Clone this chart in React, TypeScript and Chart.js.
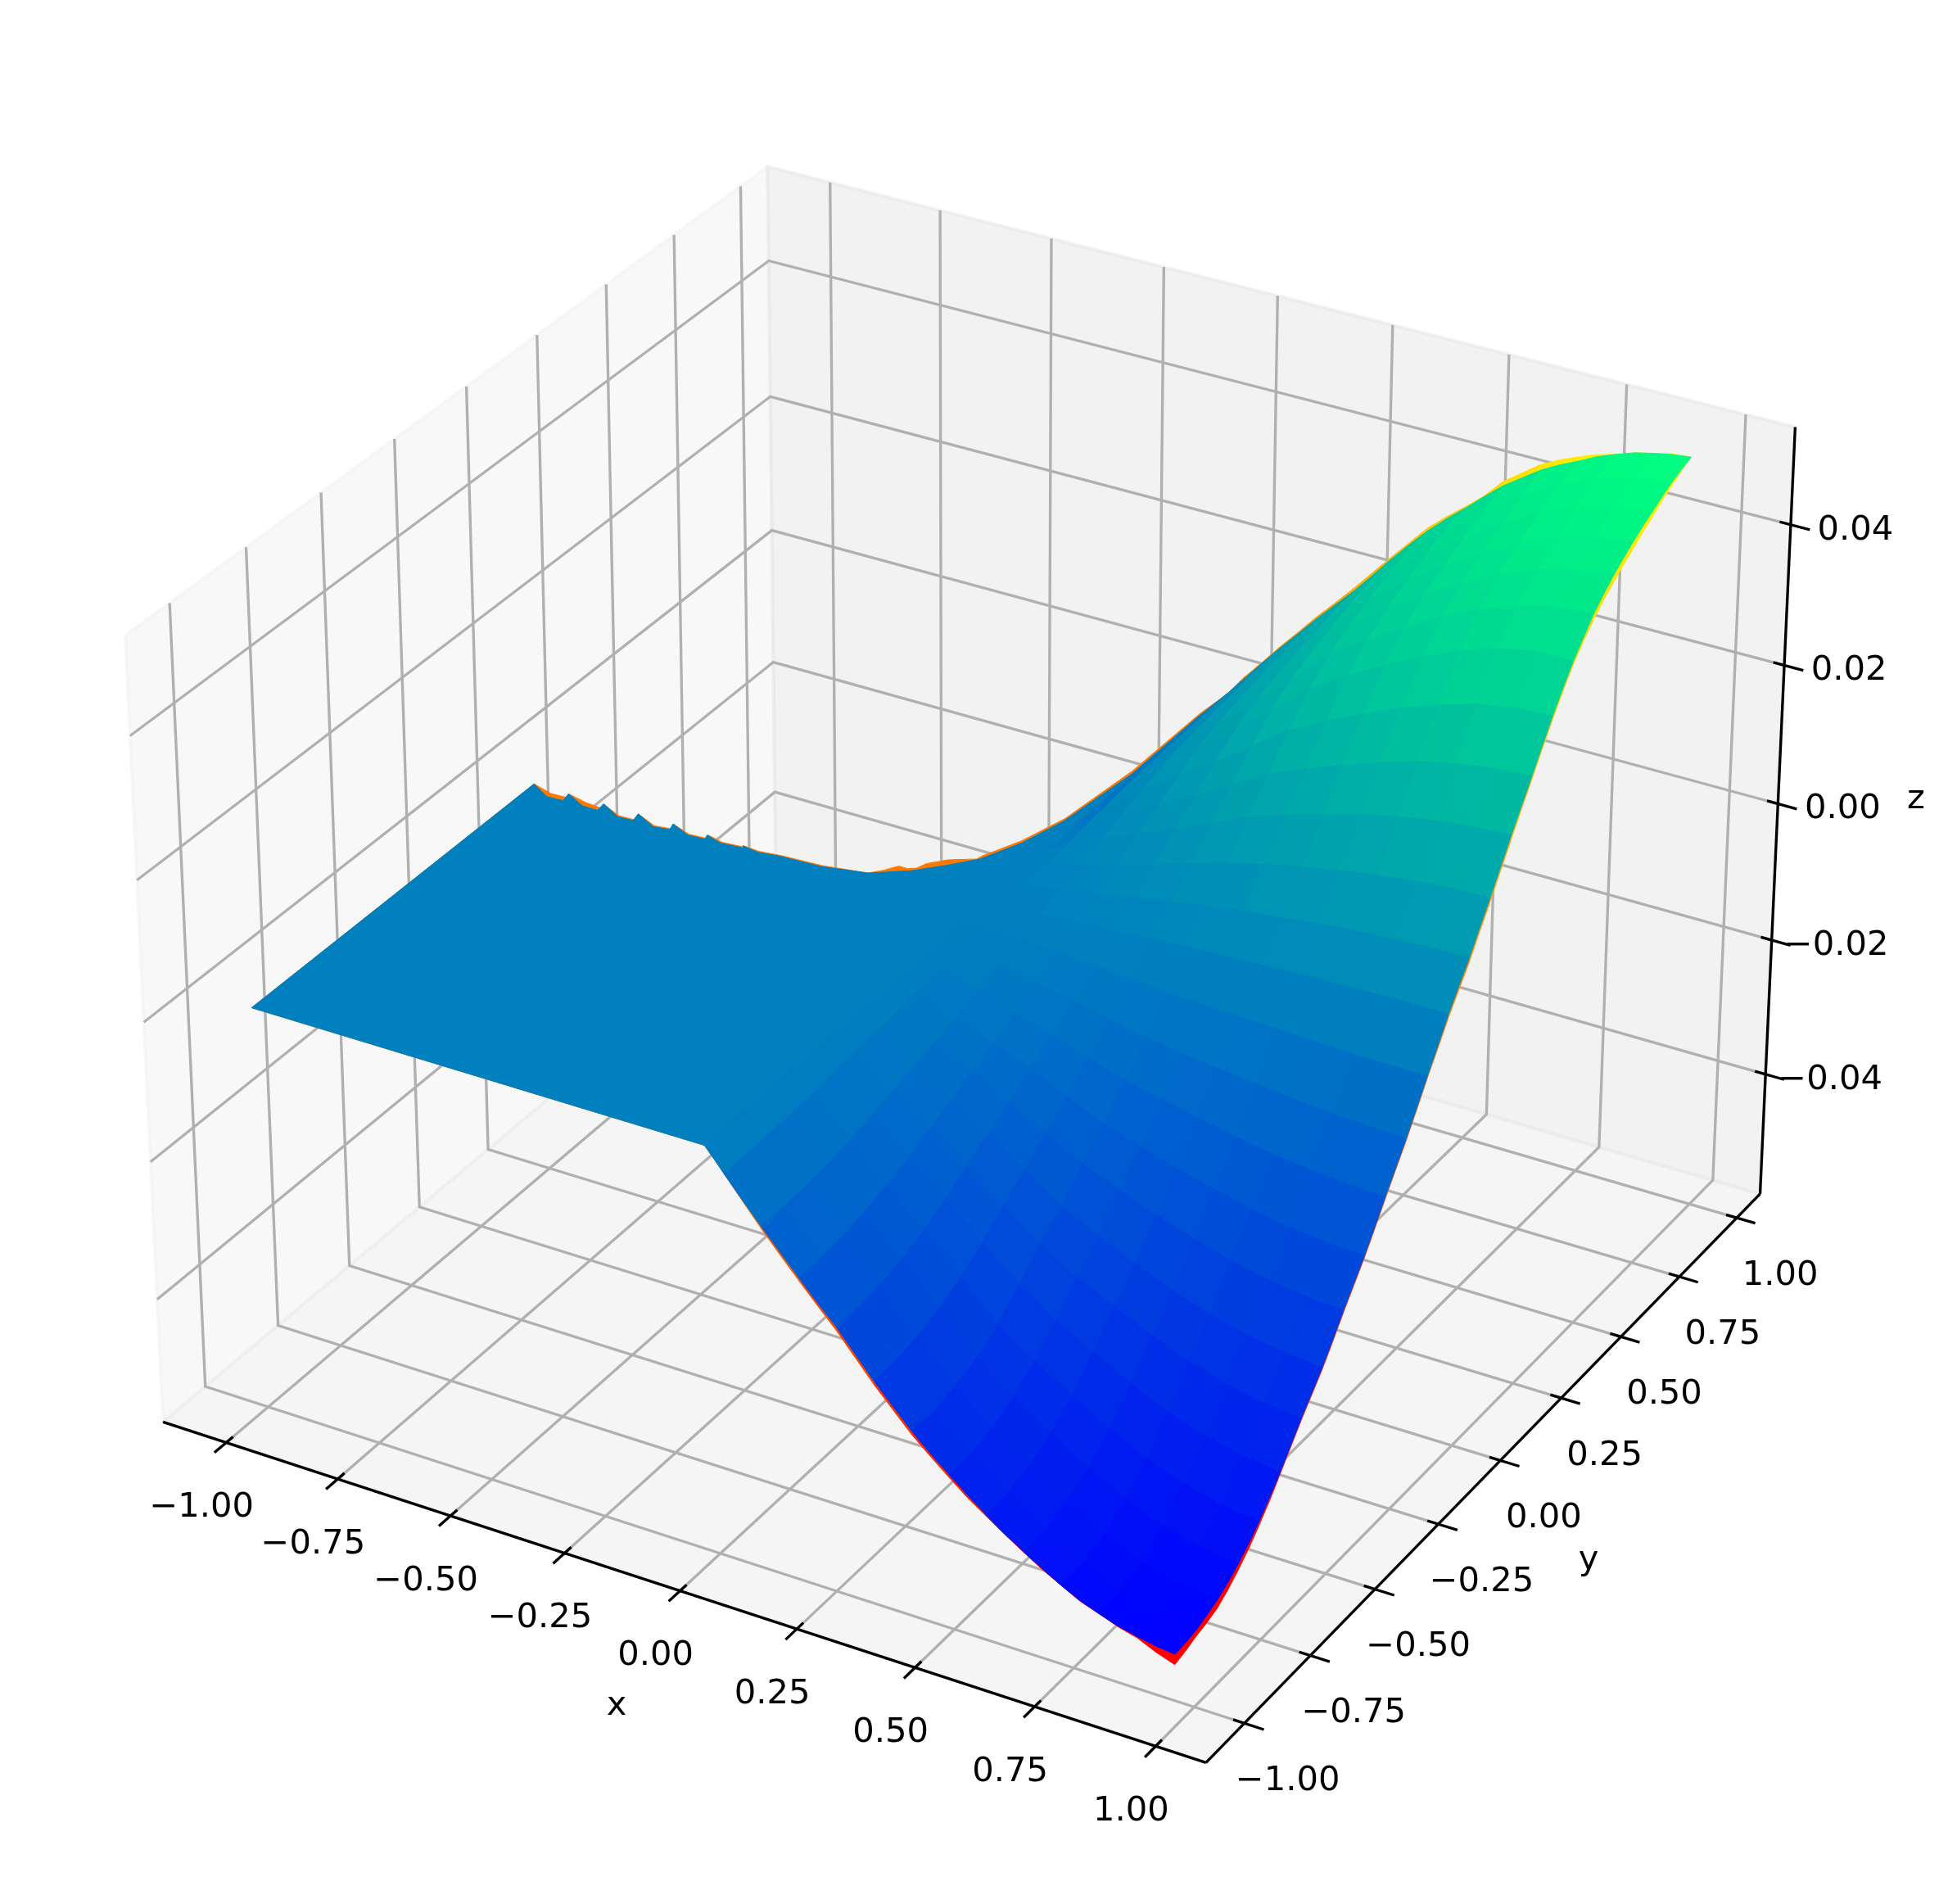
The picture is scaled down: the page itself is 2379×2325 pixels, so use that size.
import React, { useEffect, useRef } from "react";
import { Chart, registerables } from "chart.js";

Chart.register(...registerables);

const W = 2379;
const H = 2325;

// ---- axes ----
const xLim = [-1.143, 1.103];
const yLim = [-1.143, 1.103];
const zLim = [-0.0581, 0.0537];
const xTicks = [-1, -0.75, -0.5, -0.25, 0, 0.25, 0.5, 0.75, 1];
const yTicks = [-1, -0.75, -0.5, -0.25, 0, 0.25, 0.5, 0.75, 1];
const zTicks = [-0.04, -0.02, 0, 0.02, 0.04];
const xTickLabels = ["−1.00", "−0.75", "−0.50", "−0.25", "0.00", "0.25", "0.50", "0.75", "1.00"];
const yTickLabels = ["−1.00", "−0.75", "−0.50", "−0.25", "0.00", "0.25", "0.50", "0.75", "1.00"];
const zTickLabels = ["−0.04", "−0.02", "0.00", "0.02", "0.04"];

// ---- surface grid for x >= about 0 ----
const xCols = [-0.021, 0.019, 0.097, 0.175, 0.254, 0.332, 0.41, 0.489, 0.567, 0.646, 0.724, 0.802, 0.881, 0.959];
const yRows = [-1, -0.922, -0.843, -0.765, -0.687, -0.608, -0.53, -0.452, -0.373, -0.295, -0.217, -0.138, -0.06, 0.019, 0.097, 0.175, 0.254, 0.332, 0.41, 0.489, 0.567, 0.646, 0.724, 0.802, 0.881, 0.959];
const Z_UNIT = 1e-4;

// upper surface (blue to green), one row per y
const zWinter = [
  [0, -31, -90, -146, -200, -260, -314, -360, -401, -437, -468, -491, -506, -514],
  [0, -31, -89, -145, -199, -258, -316, -360, -398, -434, -464, -487, -502, -510],
  [0, -30, -87, -142, -194, -251, -308, -350, -388, -422, -452, -475, -490, -497],
  [0, -29, -83, -135, -185, -240, -295, -335, -371, -404, -432, -454, -468, -475],
  [0, -27, -78, -126, -173, -224, -275, -312, -346, -377, -403, -423, -436, -443],
  [0, -24, -70, -114, -156, -203, -249, -283, -313, -341, -365, -383, -395, -401],
  [0, -21, -62, -101, -138, -178, -219, -249, -275, -300, -321, -337, -348, -353],
  [0, -19, -54, -88, -121, -156, -192, -218, -241, -263, -281, -295, -304, -309],
  [0, -15, -45, -73, -100, -129, -159, -180, -200, -218, -233, -244, -252, -256],
  [0, -12, -36, -59, -80, -104, -128, -145, -161, -175, -187, -197, -203, -206],
  [0, -9, -26, -42, -58, -75, -92, -105, -116, -127, -136, -142, -147, -149],
  [0, -6, -16, -27, -36, -47, -58, -66, -73, -79, -85, -89, -92, -93],
  [0, -2, -6, -9, -12, -16, -20, -23, -25, -27, -29, -31, -32, -32],
  [0, 2, 5, 8, 11, 15, 18, 20, 23, 25, 26, 28, 29, 29],
  [0, 5, 14, 23, 32, 41, 51, 58, 64, 70, 75, 78, 81, 82],
  [0, 8, 25, 40, 55, 71, 87, 99, 110, 120, 128, 135, 139, 141],
  [0, 12, 36, 58, 79, 103, 126, 143, 158, 173, 185, 194, 200, 203],
  [0, 16, 46, 74, 102, 132, 162, 184, 204, 222, 238, 249, 257, 261],
  [0, 19, 56, 92, 126, 163, 200, 227, 251, 274, 293, 308, 317, 320],
  [0, 23, 66, 108, 147, 191, 234, 266, 295, 321, 344, 361, 372, 372],
  [0, 25, 73, 118, 162, 210, 257, 293, 324, 353, 378, 396, 409, 413],
  [0, 27, 78, 126, 173, 224, 275, 312, 346, 377, 403, 423, 436, 443],
  [0, 28, 81, 133, 181, 235, 288, 328, 363, 395, 423, 444, 458, 466],
  [0, 29, 85, 138, 189, 245, 301, 342, 378, 412, 441, 463, 478, 485],
  [0, 30, 88, 143, 196, 254, 311, 354, 392, 427, 457, 479, 494, 502],
  [0, 31, 90, 146, 200, 259, 314, 360, 405, 441, 467, 490, 505, 513],
];
// extra boundary samples half way between the grid points
const winterFrontMid = [-15, -61, -118, -174, -230, -287, -338, -381, -420, -453, -481, -500, -511];
const winterBackMid = [15, 61, 118, 173, 229, 287, 338, 383, 423, 455, 480, 499, 510];
const winterRightMid = [-513, -504, -487, -460, -423, -377, -331, -283, -231, -178, -121, -63, -2, 56, 112, 172, 232, 291, 347, 393, 429, 455, 476, 494, 508];
// tone (as a z value) of the narrow dark strip next to the x = 0 edge, per cell row
const winterStripTone = [null, null, null, null, null, null, null, null, null, null, null, null, null, null, null, null, -20, -35, -45, -45, -45, -45, -35, -25, null];

// lower surface (red to yellow), one row per y
const zAutumn = [
  [0, -31, -93, -150, -205, -265, -319, -364, -403, -438, -468, -491, -508, -529],
  [0, -31, -89, -145, -199, -258, -316, -360, -398, -434, -464, -487, -502, -519],
  [0, -30, -87, -142, -194, -251, -308, -350, -388, -422, -452, -475, -490, -509],
  [0, -29, -83, -135, -185, -240, -295, -335, -371, -404, -432, -454, -468, -484],
  [0, -27, -78, -126, -173, -224, -275, -312, -346, -377, -403, -423, -436, -449],
  [0, -24, -70, -114, -156, -203, -249, -283, -313, -341, -365, -383, -395, -404],
  [0, -21, -62, -101, -138, -178, -219, -249, -275, -300, -321, -337, -348, -356],
  [0, -19, -54, -88, -121, -156, -192, -218, -241, -263, -281, -295, -304, -312],
  [0, -15, -45, -73, -100, -129, -159, -180, -200, -218, -233, -244, -252, -259],
  [0, -12, -36, -59, -80, -104, -128, -145, -161, -175, -187, -197, -203, -209],
  [0, -9, -26, -42, -58, -75, -92, -105, -116, -127, -136, -142, -147, -152],
  [0, -6, -16, -27, -36, -47, -58, -66, -73, -79, -85, -89, -92, -96],
  [0, -2, -6, -9, -12, -16, -20, -23, -25, -27, -29, -31, -32, -35],
  [0, 2, 5, 8, 11, 15, 18, 20, 23, 25, 26, 28, 29, 24],
  [0, 5, 14, 23, 32, 41, 51, 58, 64, 70, 75, 78, 81, 76],
  [0, 8, 25, 40, 55, 71, 87, 99, 110, 120, 128, 135, 139, 135],
  [0, 12, 36, 58, 79, 103, 126, 143, 158, 173, 185, 194, 200, 197],
  [0, 16, 46, 74, 102, 132, 162, 184, 204, 222, 238, 249, 257, 256],
  [0, 19, 56, 92, 126, 163, 200, 227, 251, 274, 293, 308, 317, 315],
  [0, 23, 66, 108, 147, 191, 234, 266, 295, 321, 344, 361, 372, 367],
  [0, 25, 73, 118, 162, 210, 257, 293, 324, 353, 378, 396, 409, 405],
  [0, 27, 78, 126, 173, 224, 275, 312, 346, 377, 403, 423, 436, 433],
  [0, 28, 81, 133, 181, 235, 288, 328, 363, 395, 423, 444, 458, 456],
  [0, 29, 85, 138, 189, 245, 301, 342, 378, 412, 441, 463, 478, 477],
  [0, 30, 88, 143, 196, 254, 311, 354, 392, 427, 457, 479, 494, 497],
  [0, 33, 92, 149, 204, 262, 318, 362, 411, 449, 473, 490, 505, 513],
];
const autumnFrontMid = [-15, -62, -122, -178, -235, -292, -342, -385, -421, -454, -482, -501, -520];
const autumnBackMid = [16, 62, 120, 176, 233, 290, 341, 384, 430, 462, 483, 499, 511];
const autumnRightMid = [-525, -515, -498, -468, -428, -380, -334, -286, -234, -181, -124, -66, -6, 50, 106, 166, 227, 286, 342, 387, 420, 445, 467, 488, 506];

// flat part (x < 0, z = 0): outline in the x-y plane, including the saw-toothed edge
const flatWinterX = [-1, -1, -0.952, -0.917, -0.922, -0.873, -0.84, -0.843, -0.793, -0.76, -0.765, -0.714, -0.681, -0.687, -0.64, -0.604, -0.608, -0.569, -0.523, -0.528, -0.491, -0.447, -0.359, -0.269, -0.203, -0.154, -0.112, -0.075, -0.047, -0.025, -0.025, -0.021, -0.021];
const flatWinterY = [-1, -0.021, -0.051, -0.049, -0.021, -0.048, -0.048, -0.021, -0.05, -0.048, -0.021, -0.049, -0.043, -0.021, -0.044, -0.041, -0.026, -0.039, -0.034, -0.027, -0.034, -0.026, -0.021, 0.002, 0.05, 0.103, 0.155, 0.246, 0.363, 0.587, 0.847, 0.959, -1];
const flatAutumnX = [-1, -1, -0.952, -0.917, -0.922, -0.873, -0.84, -0.843, -0.793, -0.76, -0.765, -0.714, -0.681, -0.687, -0.64, -0.604, -0.608, -0.569, -0.523, -0.528, -0.491, -0.447, -0.359, -0.269, -0.249, -0.232, -0.213, -0.199, -0.192, -0.164, -0.118, -0.115, -0.079, -0.05, -0.03, -0.028, -0.021, -0.021];
const flatAutumnY = [-1, -0.021, -0.037, -0.035, -0.021, -0.034, -0.037, -0.021, -0.046, -0.044, -0.021, -0.045, -0.039, -0.021, -0.04, -0.037, -0.024, -0.035, -0.03, -0.026, -0.03, -0.023, -0.017, 0.002, 0.026, 0.054, 0.054, 0.064, 0.087, 0.121, 0.151, 0.166, 0.254, 0.371, 0.597, 0.861, 0.959, -1];

// ---- view (elevation 30, azimuth -60, matplotlib-like perspective) ----
const BOX = [1.19048, 1.19048, 0.89286];
const DIST = 10;
const SCALE = 12257;
const CX = 1192.3;
const CY = 1131;
const U = [0.866025, 0.5, 0];
const V = [-0.25, 0.433013, 0.866025];
const N = [0.433013, -0.75, 0.5];

const boxPoint = (x: number, y: number, z: number) => [
  ((x - xLim[0]) / (xLim[1] - xLim[0]) - 0.5) * BOX[0],
  ((y - yLim[0]) / (yLim[1] - yLim[0]) - 0.5) * BOX[1],
  ((z - zLim[0]) / (zLim[1] - zLim[0]) - 0.5) * BOX[2],
];
const dot = (a: number[], b: number[]) => a[0] * b[0] + a[1] * b[1] + a[2] * b[2];
const depth = (x: number, y: number, z: number) => dot(boxPoint(x, y, z), N);
const project = (x: number, y: number, z: number) => {
  const q = boxPoint(x, y, z);
  const d = DIST - dot(q, N);
  return { x: dot(q, U) / d, y: dot(q, V) / d };
};

// ---- colour maps ----
const winter = (z: number) => {
  const t = Math.min(1, Math.max(0, (z + 0.0514) / 0.1027));
  return `rgb(0,${Math.round(255 * t)},${Math.round(255 * (1 - 0.5 * t))})`;
};
const autumn = (z: number) => {
  const t = Math.min(1, Math.max(0, (z + 0.049) / 0.104));
  return `rgb(255,${Math.round(255 * t)},0)`;
};

type P3 = [number, number, number];

const line3d = (pts: P3[], color: string, width: number) => ({
  data: pts.map((p) => project(p[0], p[1], p[2])),
  showLine: true,
  fill: false,
  borderColor: color,
  borderWidth: width,
  pointRadius: 0,
  borderCapStyle: "butt",
  borderJoinStyle: "miter",
  clip: false,
});

const poly3d = (pts: P3[], fillColor: string, edgeColor: string, width: number) => ({
  data: [...pts, pts[0]].map((p) => project(p[0], p[1], p[2])),
  showLine: true,
  fill: "shape",
  backgroundColor: fillColor,
  borderColor: edgeColor,
  borderWidth: width,
  borderDash: [1000000, 1],
  pointRadius: 0,
  borderJoinStyle: "round",
  clip: false,
});

type SurfaceInput = {
  zs: number[][];
  frontMid: number[];
  backMid: number[];
  rightMid: number[];
  cmap: (z: number) => string;
  fx: number[];
  fy: number[];
  strip?: (number | null)[];
};

function surface({ zs, frontMid, backMid, rightMid, cmap, fx, fy, strip }: SurfaceInput) {
  const cells: { d: number; set: any }[] = [];
  const lastRow = yRows.length - 2;
  const lastCol = xCols.length - 2;
  for (let j = 0; j <= lastRow; j++) {
    for (let i = 0; i <= lastCol; i++) {
      const a: P3 = [xCols[i], yRows[j], zs[j][i] * Z_UNIT];
      const b: P3 = [xCols[i + 1], yRows[j], zs[j][i + 1] * Z_UNIT];
      const c: P3 = [xCols[i + 1], yRows[j + 1], zs[j + 1][i + 1] * Z_UNIT];
      const e: P3 = [xCols[i], yRows[j + 1], zs[j + 1][i] * Z_UNIT];
      const xm = (xCols[i] + xCols[i + 1]) / 2;
      const ym = (yRows[j] + yRows[j + 1]) / 2;
      const pts: P3[] = [a];
      if (j === 0) pts.push([xm, yRows[0], frontMid[i] * Z_UNIT]);
      pts.push(b);
      if (i === lastCol) pts.push([xCols[i + 1], ym, rightMid[j] * Z_UNIT]);
      pts.push(c);
      if (j === lastRow) pts.push([xm, yRows[j + 1], backMid[i] * Z_UNIT]);
      pts.push(e);
      let zAvg = (a[2] + b[2] + c[2] + e[2]) / 4;
      if (i === 0 && strip && strip[j] !== null) zAvg = (strip[j] as number) * Z_UNIT;
      const col = cmap(zAvg);
      cells.push({
        d: (depth(...a) + depth(...b) + depth(...c) + depth(...e)) / 4,
        set: poly3d(pts, col, col, 1),
      });
    }
  }
  cells.sort((p, q) => p.d - q.d);
  const flatCol = cmap(0);
  const flat = poly3d(fx.map((x, k) => [x, fy[k], 0] as P3), flatCol, flatCol, 1);
  return [flat, ...cells.map((c) => c.set)];
}

function buildPaintOrder() {
  const [x0, x1] = xLim;
  const [y0, y1] = yLim;
  const [z0, z1] = zLim;
  const sets: any[] = [];
  // panes
  sets.push(poly3d([[x0, y0, z0], [x0, y1, z0], [x0, y1, z1], [x0, y0, z1]], "rgba(242,242,242,0.5)", "rgba(242,242,242,0.5)", 4.17));
  sets.push(poly3d([[x0, y1, z0], [x1, y1, z0], [x1, y1, z1], [x0, y1, z1]], "rgba(230,230,230,0.5)", "rgba(230,230,230,0.5)", 4.17));
  sets.push(poly3d([[x0, y0, z0], [x1, y0, z0], [x1, y1, z0], [x0, y1, z0]], "rgba(236,236,236,0.5)", "rgba(236,236,236,0.5)", 4.17));
  // grid
  const grid = "#b0b0b0";
  const gw = 3.33;
  xTicks.forEach((t) => sets.push(line3d([[t, y0, z0], [t, y1, z0], [t, y1, z1]], grid, gw)));
  yTicks.forEach((t) => sets.push(line3d([[x1, t, z0], [x0, t, z0], [x0, t, z1]], grid, gw)));
  zTicks.forEach((t) => sets.push(line3d([[x0, y0, t], [x0, y1, t], [x1, y1, t]], grid, gw)));
  // axis lines
  sets.push(line3d([[x0, y0, z0], [x1, y0, z0]], "#000", 3.33));
  sets.push(line3d([[x1, y0, z0], [x1, y1, z0]], "#000", 3.33));
  sets.push(line3d([[x1, y1, z0], [x1, y1, z1]], "#000", 3.33));
  // tick marks
  const OUT = 0.04;
  const IN = 0.023;
  xTicks.forEach((t) => sets.push(line3d([[t, y0 - OUT, z0], [t, y0 + IN, z0]], "#000", 3.33)));
  yTicks.forEach((t) => sets.push(line3d([[x1 - IN, t, z0], [x1 + OUT, t, z0]], "#000", 3.33)));
  zTicks.forEach((t) => sets.push(line3d([[x1 - IN, y1, t], [x1 + OUT, y1, t]], "#000", 3.33)));
  // surfaces
  sets.push(...surface({ zs: zAutumn, frontMid: autumnFrontMid, backMid: autumnBackMid, rightMid: autumnRightMid, cmap: autumn, fx: flatAutumnX, fy: flatAutumnY }));
  sets.push(...surface({ zs: zWinter, frontMid: winterFrontMid, backMid: winterBackMid, rightMid: winterRightMid, cmap: winter, fx: flatWinterX, fy: flatWinterY, strip: winterStripTone }));
  return sets;
}

const textPlugin = {
  id: "axisText",
  afterDatasetsDraw(chart: any) {
    const { ctx, scales } = chart;
    const put = (text: string, p: { x: number; y: number }, dx: number, dy: number) => {
      ctx.fillText(text, scales.x.getPixelForValue(p.x) + dx, scales.y.getPixelForValue(p.y) + dy);
    };
    ctx.save();
    ctx.fillStyle = "#000";
    ctx.font = '41.67px "DejaVu Sans"';
    ctx.textAlign = "center";
    ctx.textBaseline = "middle";
    xTicks.forEach((t, i) => put(xTickLabels[i], project(t, yLim[0], zLim[0]), -30, 80));
    yTicks.forEach((t, i) => put(yTickLabels[i], project(xLim[1], t, zLim[0]), 53, 71));
    zTicks.forEach((t, i) => put(zTickLabels[i], project(xLim[1], yLim[1], t), 79, 7));
    const axisLabels: [string, number, number][] = [["x", 753, 2083], ["y", 1940, 1905], ["z", 2340, 976]];
    axisLabels.forEach(([s, px, py]) => ctx.fillText(s, px, py));
    ctx.restore();
  },
};

export default function App() {
  const ref = useRef<HTMLCanvasElement>(null);
  useEffect(() => {
    if (!ref.current) return;
    const chart = new Chart(ref.current, {
      type: "scatter",
      // Chart.js paints the first dataset last, so the list is reversed
      data: { datasets: buildPaintOrder().reverse() },
      options: {
        responsive: false,
        animation: false,
        parsing: false,
        normalized: true,
        devicePixelRatio: 1,
        events: [],
        layout: { padding: 0 },
        plugins: { legend: { display: false }, tooltip: { enabled: false } },
        scales: {
          x: { type: "linear", display: false, min: (0 - CX) / SCALE, max: (W - CX) / SCALE },
          y: { type: "linear", display: false, min: (CY - H) / SCALE, max: CY / SCALE },
        },
      },
      plugins: [textPlugin],
    } as any);
    return () => chart.destroy();
  }, []);
  return (
    <canvas
      ref={ref}
      width={W}
      height={H}
      style={{ position: "absolute", left: 0, top: 0, width: W, height: H, display: "block", background: "#fff" }}
    />
  );
}
